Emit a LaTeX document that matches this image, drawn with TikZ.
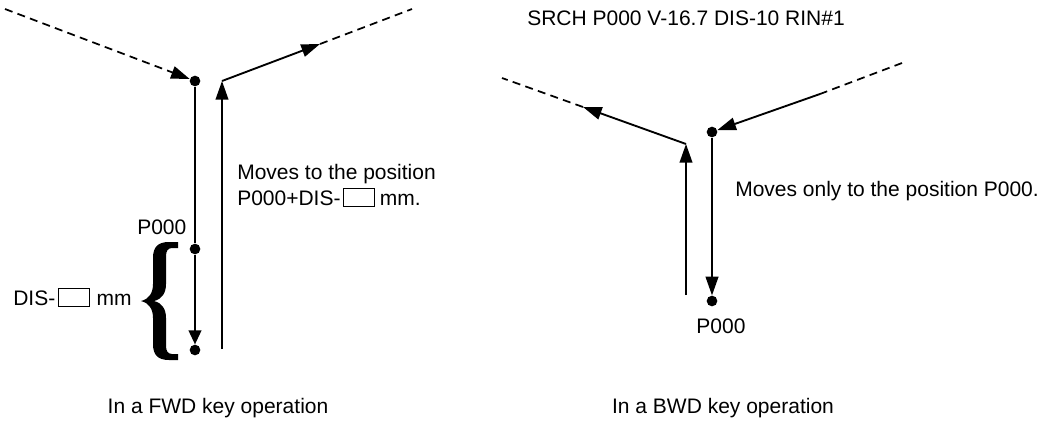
\documentclass[tikz,border=0pt]{standalone}
\usepackage{fontspec}
\setmainfont{Liberation Sans}
\usetikzlibrary{arrows.meta}
\newcommand{\emptybox}{{\setlength{\fboxsep}{0pt}\setlength{\fboxrule}{0.6pt}\raisebox{-0.9pt}{\fbox{\rule{0pt}{13pt}\hspace{22.8pt}}}}}
\begin{document}
\begin{tikzpicture}[x=0.75pt,y=-0.75pt,
  txt/.style={inner sep=0pt, anchor=base west, font=\fontsize{15.75}{19}\selectfont},
  dot/.style={circle, fill=black, inner sep=0pt, minimum size=8pt},
  ln/.style={line width=1.4pt},
  dsh/.style={line width=1.3pt, dash pattern=on 6pt off 4pt},
  tip/.style={-{Triangle[length=14pt,width=9.5pt]}},
  shorttip/.style={-{Triangle[length=10.5pt,width=9.5pt]}}]
\useasboundingbox (0,0) rectangle (1044,421);
% ---------- left figure ----------
\coordinate (a0) at (5,9);
\node[dot] (d1) at (195,81) {};
\node[dot] (d2) at (195,249) {};
\node[dot] (d3) at (195,350) {};
\coordinate (u0) at (222,349);
\coordinate (u1) at (222,81);
\coordinate (s1) at (320,44);
\coordinate (s2) at (412,9);
\draw[dsh,tip] (a0) -- (d1);
\draw[ln] (d1) -- (d2);
\draw[ln,shorttip] (d2) -- (d3);
\draw[ln,tip] (u0) -- (u1);
\draw[ln,tip] (u1) -- (s1);
\draw[dsh] (s1) -- (s2);
% brace
\fill (178,242) -- (169,242) .. controls (158,242) and (153,247) .. (153,258) -- (153,284)
  .. controls (153,293) and (149,299) .. (141,301)
  .. controls (149,303) and (153,309) .. (153,318) -- (153,344)
  .. controls (153,355) and (158,360) .. (169,360) -- (178,360) -- (178,354) -- (172,354)
  .. controls (168,354) and (166,351) .. (166,346) -- (166,318)
  .. controls (166,309) and (162,303) .. (154,301)
  .. controls (162,299) and (166,293) .. (166,284) -- (166,256)
  .. controls (166,251) and (168,248) .. (172,248) -- (178,248) -- cycle;
\node[txt] (m1) at (237,179) {Moves to the position};
\node[txt] (m2) at (237,205) {P000+DIS-\hspace{2pt}\emptybox\hspace{3.5pt}mm.};
\node[txt] (p1) at (137,234) {P000};
\node[txt] (dl) at (13,305) {DIS-\hspace{2pt}\emptybox\hspace{5pt}mm};
\node[txt,anchor=base] (c1) at (218,413) {In a FWD key operation};
% ---------- right figure ----------
\node[txt] (srch) at (527,26) {SRCH P000 V-16.7 DIS-10 RIN\#1};
\coordinate (l0) at (502,78);
\coordinate (l1) at (583,107);
\coordinate (t) at (686,144);
\coordinate (b0) at (686,295);
\coordinate (r0) at (902,63);
\coordinate (r1) at (820,94);
\node[dot] (d4) at (712,132) {};
\node[dot] (d5) at (712,301) {};
\draw[ln,tip] (b0) -- (t);
\draw[ln,tip] (t) -- (l1);
\draw[dsh] (l1) -- (l0);
\draw[dsh] (r0) -- (r1);
\draw[ln,tip] (r1) -- (d4);
\draw[ln,tip] (d4) -- (d5);
\node[txt,anchor=base] (p2) at (721,333) {P000};
\node[txt] (m3) at (735,196) {Moves only to the position P000.};
\node[txt,anchor=base] (c2) at (723,413) {In a BWD key operation};
\end{tikzpicture}
\end{document}
